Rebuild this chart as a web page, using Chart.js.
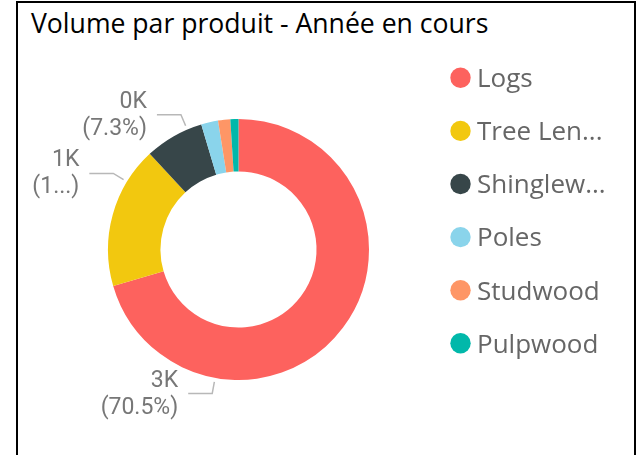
<!DOCTYPE html>
<html>
<head>
<meta charset="utf-8">
<script src="https://cdn.jsdelivr.net/npm/chart.js@4.4.1/dist/chart.umd.min.js"></script>
<style>
  html, body { margin: 0; padding: 0; width: 638px; height: 455px; overflow: hidden; background: #fff; }
  #frame { position: absolute; left: 16px; top: 1px; width: 620px; height: 480px; border: 2px solid #000; border-bottom: none; box-sizing: border-box; }
  #title { position: absolute; left: 31px; top: 10px; font-family: "Open Sans", sans-serif; font-size: 26.6px; line-height: 26px; color: #000; white-space: nowrap; }
  #c { position: absolute; left: 0; top: 0; }
</style>
</head>
<body>
<div id="frame"></div>
<div id="title">Volume par produit - Année en cours</div>
<canvas id="c" width="638" height="455"></canvas>
<script>
// ---- data ----
const categories = ["Logs", "Tree Length", "Shinglewood", "Poles", "Studwood", "Pulpwood"];
const volumes = [3032, 757, 314, 90, 65, 43];

// ---- styles ----
const sliceColors = ["#FD625E", "#F2C80F", "#374649", "#8AD4EB", "#FE9666", "#01B8AA"];

function truncate(ctx, text, maxW) {
  if (ctx.measureText(text).width <= maxW) return text;
  let t = text;
  while (t.length > 1 && ctx.measureText(t + "...").width > maxW) t = t.slice(0, -1);
  return t.trimEnd() + "...";
}

const labelsPlugin = {
  id: "pbiLabels",
  afterDatasetsDraw(chart) {
    const ctx = chart.ctx;
    const meta = chart.getDatasetMeta(0);
    const data = chart.data.datasets[0].data;
    const total = data.reduce((a, b) => a + b, 0);
    ctx.save();
    // data labels with leader lines
    meta.data.forEach((arc, i) => {
      const pct = data[i] / total * 100;
      if (pct < 5) return;
      const p = arc.getProps(["x", "y", "startAngle", "endAngle", "outerRadius"], true);
      const a = p.startAngle + 0.75 * (p.endAngle - p.startAngle);
      const ax = p.x + Math.cos(a) * (p.outerRadius + 4);
      const ay = p.y + Math.sin(a) * (p.outerRadius + 4);
      const kx = ax + Math.cos(a) * 12;
      const ky = ay + Math.sin(a) * 12;
      const dir = Math.cos(a) < 0 ? -1 : 1;
      const ex = kx + dir * 24;
      ctx.strokeStyle = "#b8b8b8";
      ctx.lineWidth = 1.5;
      ctx.beginPath();
      ctx.moveTo(ax, ay);
      ctx.lineTo(kx, ky);
      ctx.lineTo(ex, ky);
      ctx.stroke();
      ctx.font = "23px Roboto";
      ctx.fillStyle = "#777777";
      ctx.textAlign = dir < 0 ? "right" : "left";
      ctx.textBaseline = "alphabetic";
      const tx = ex + dir * 10;
      const valueText = Math.round(data[i] / 1000) + "K";
      const pctInner = pct.toFixed(1) + "%";
      const avail = dir < 0 ? tx - 28 : 600 - tx;
      let pctText = "(" + pctInner + ")";
      if (ctx.measureText(pctText).width > avail) {
        let t = pctInner;
        while (t.length > 1 && ctx.measureText("(" + t + "...)").width > avail) t = t.slice(0, -1);
        pctText = "(" + t + "...)";
      }
      ctx.fillText(valueText, tx, ky - 7);
      ctx.fillText(pctText, tx, ky + 20);
    });
    // legend
    const lx = 460.5, ly0 = 77.8, step = 53.1;
    ctx.font = "26px 'Open Sans'";
    ctx.textAlign = "left";
    ctx.textBaseline = "alphabetic";
    chart.data.labels.forEach((lab, i) => {
      const cy = ly0 + i * step;
      ctx.fillStyle = chart.data.datasets[0].backgroundColor[i];
      ctx.beginPath();
      ctx.arc(lx, cy, 10.2, 0, Math.PI * 2);
      ctx.fill();
      ctx.fillStyle = "#666666";
      ctx.fillText(truncate(ctx, lab, 134), 477, cy + 9.3);
    });
    ctx.restore();
  }
};

new Chart(document.getElementById("c"), {
  type: "doughnut",
  data: {
    labels: categories,
    datasets: [{ data: volumes, backgroundColor: sliceColors, borderWidth: 0 }]
  },
  options: {
    responsive: false,
    animation: false,
    cutout: "59.8%",
    layout: { padding: { left: 108, right: 269, top: 119, bottom: 75 } },
    plugins: { legend: { display: false }, tooltip: { enabled: false }, title: { display: false } }
  },
  plugins: [labelsPlugin]
});
</script>
</body>
</html>
